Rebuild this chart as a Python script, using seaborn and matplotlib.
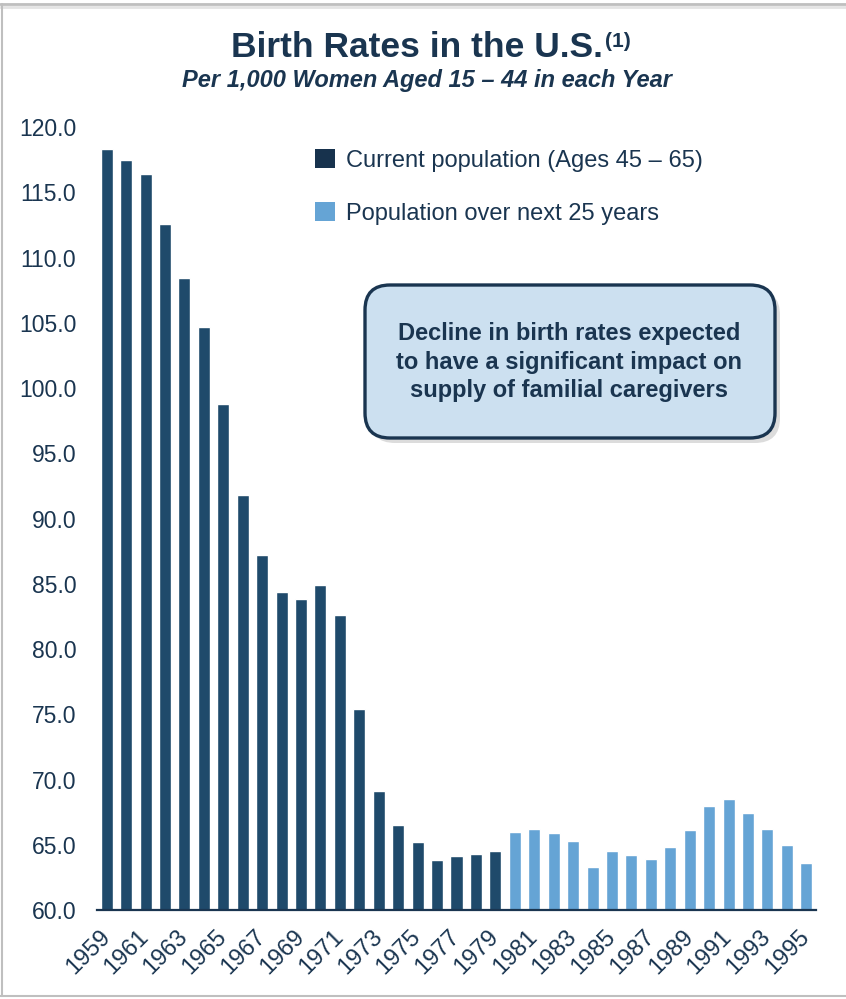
import matplotlib
matplotlib.use("Agg")
import matplotlib.pyplot as plt
from matplotlib.patches import FancyBboxPatch, Patch
from matplotlib.lines import Line2D
from matplotlib.transforms import IdentityTransform
import seaborn as sns
import pandas as pd

# values
years = list(range(1959, 1996))
rates = [118.3, 117.5, 116.4, 112.6, 108.4, 104.7, 98.8, 91.8, 87.2, 84.4,
         83.8, 84.9, 82.6, 75.4, 69.1, 66.5, 65.2, 63.8, 64.1, 64.3,
         64.5, 66.0, 66.2, 65.9, 65.3, 63.3, 64.5, 64.2, 63.9, 64.8,
         66.1, 68.0, 68.5, 67.4, 66.2, 65.0, 63.6]
current_label = "Current population (Ages 45 \u2013 65)"
future_label = "Population over next 25 years"
groups = [current_label if y < 1980 else future_label for y in years]

navy = "#1a3550"
dark_bar = "#1f4a6b"
light_bar = "#65a4d5"

sns.set_style("white")
plt.rcParams["font.family"] = ["Liberation Sans", "DejaVu Sans"]

df = pd.DataFrame({"year": [str(y) for y in years], "rate": rates, "group": groups})

W, H = 846, 999
fig = plt.figure(figsize=(W / 100, H / 100), dpi=100)
ax = fig.add_axes([97 / W, 1 - 910 / H, 719 / W, 783 / H])

sns.barplot(data=df, x="year", y="rate", hue="group",
            palette={current_label: dark_bar, future_label: light_bar},
            dodge=False, width=0.62, saturation=1, legend=False, ax=ax)

ax.set_ylim(60, 120)
ax.set_xlim(-0.5, len(years) - 0.5)
ax.set_yticks(range(60, 121, 5))
ax.set_yticklabels([f"{v:.1f}" for v in range(60, 121, 5)])
ax.set_xticks(range(0, len(years), 2))
ax.set_xticklabels([str(y) for y in years[::2]], rotation=45, ha="right",
                   va="center", rotation_mode="anchor")
ax.tick_params(axis="y", length=0, pad=15, labelsize=16.5, labelcolor=navy)
ax.tick_params(axis="x", length=0, pad=17, labelsize=17, labelcolor=navy)
ax.set_xlabel("")
ax.set_ylabel("")
for s in ["top", "right", "left"]:
    ax.spines[s].set_visible(False)
ax.spines["bottom"].set_color(navy)
ax.spines["bottom"].set_linewidth(1.6)

# legend
handles = [Patch(facecolor="#17324d", edgecolor="none", label=current_label),
           Patch(facecolor=light_bar, edgecolor="none", label=future_label)]
leg = ax.legend(handles=handles, loc="upper left", frameon=False,
                bbox_to_anchor=(315 / W, 1 - 149 / H), bbox_transform=fig.transFigure,
                fontsize=17, handlelength=0.85, handleheight=0.85,
                handletextpad=0.45, labelspacing=1.3, borderpad=0, borderaxespad=0)
for t in leg.get_texts():
    t.set_color(navy)

# callout box with shadow
shadow = FancyBboxPatch((370, H - 443), 410, 153, boxstyle="round,pad=0,rounding_size=25",
                        transform=IdentityTransform(), facecolor="#a8a8a8",
                        edgecolor="none", alpha=0.4, zorder=4)
box = FancyBboxPatch((365, H - 438), 410, 153, boxstyle="round,pad=0,rounding_size=25",
                     transform=IdentityTransform(), facecolor="#cce0f0",
                     edgecolor=navy, linewidth=2.4, zorder=5)
fig.add_artist(shadow)
fig.add_artist(box)
fig.text(569 / W, 1 - 362 / H,
         "Decline in birth rates expected\nto have a significant impact on\nsupply of familial caregivers",
         ha="center", va="center", fontsize=17, fontweight="bold", color=navy,
         linespacing=1.3, zorder=6)

# titles
title = fig.text(417 / W, 1 - 57 / H, "Birth Rates in the U.S.", ha="center", va="baseline",
                 fontsize=25.5, fontweight="bold", color=navy)
fig.canvas.draw()
bb = title.get_window_extent()
fig.text((bb.x1 + 2) / W, 1 - 47 / H, "(1)", ha="left", va="baseline",
         fontsize=15, fontweight="bold", color=navy)
fig.text(427 / W, 1 - 87 / H, "Per 1,000 Women Aged 15 \u2013 44 in each Year",
         ha="center", va="baseline", fontsize=17, fontweight="bold", style="italic",
         color=navy)

# slide frame
frame_col = "#bfbfbf"
fig.add_artist(Line2D([0, 1], [1 - 4 / H, 1 - 4 / H], transform=fig.transFigure,
                      color=frame_col, linewidth=2))
fig.add_artist(Line2D([0, 1], [1 - 7 / H, 1 - 7 / H], transform=fig.transFigure,
                      color="#e4e4e4", linewidth=2))
fig.add_artist(Line2D([1.5 / W, 1.5 / W], [1 - 996 / H, 1 - 4 / H], transform=fig.transFigure,
                      color=frame_col, linewidth=1.5))
fig.add_artist(Line2D([0, 1], [1 - 996 / H, 1 - 996 / H], transform=fig.transFigure,
                      color=frame_col, linewidth=1.5))

fig.savefig("out.png", dpi=100)
